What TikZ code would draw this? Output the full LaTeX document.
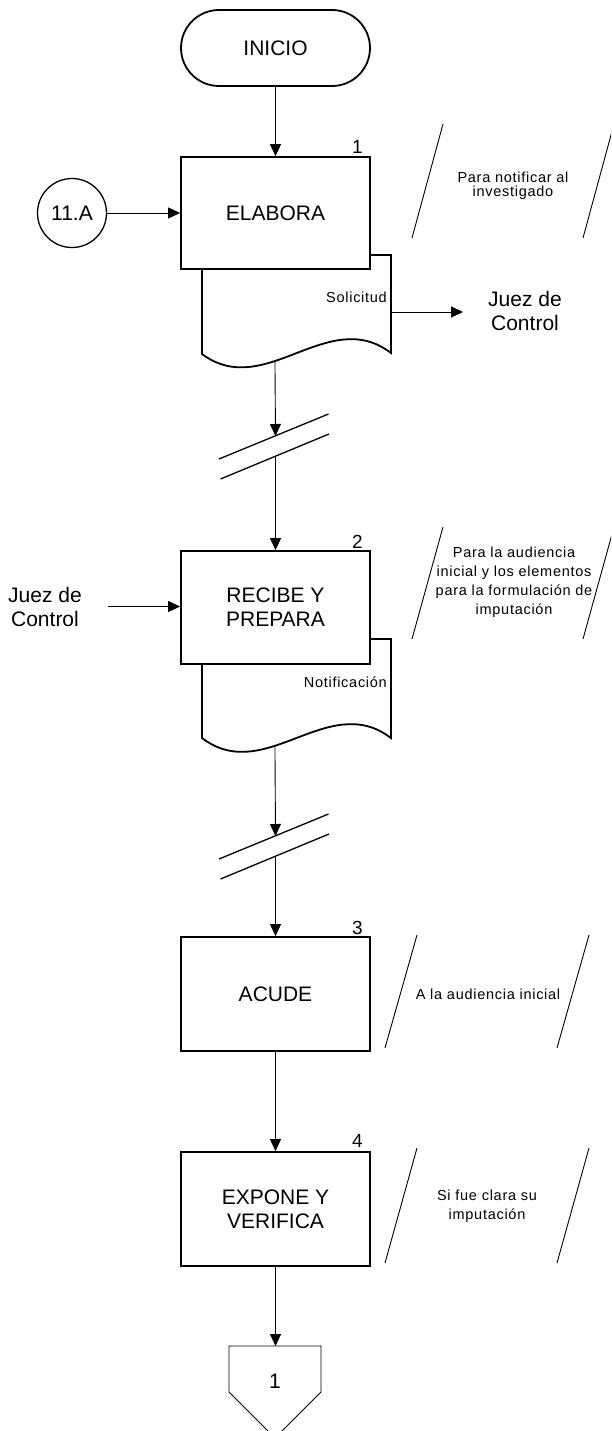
\documentclass[tikz,border=0pt]{standalone}
\usepackage{fontspec}
\setmainfont{Liberation Sans}
\usetikzlibrary{arrows.meta}
\newcommand{\bigf}{\fontsize{21}{24}\selectfont}
\newcommand{\numf}{\fontsize{19}{22}\selectfont}
\newcommand{\annf}{\fontsize{14.5}{19}\selectfont\addfontfeature{LetterSpace=5}}
\newcommand{\annt}{\fontsize{14.5}{13.5}\selectfont\addfontfeature{LetterSpace=5}}
\begin{document}
\begin{tikzpicture}[x=1pt,y=-1pt,
  box/.style={draw, line width=1.8pt, minimum width=189pt, minimum height=113pt, inner sep=0pt, font=\bigf, align=center},
  arr/.style={line width=0.9pt, -{Triangle[length=12pt,width=11pt]}},
  thinl/.style={line width=0.9pt},
  brk/.style={line width=1.3pt},
  docl/.style={line width=1.8pt, line join=miter},
  num/.style={font=\numf, anchor=base east, inner sep=0pt},
  ann/.style={font=\annf, align=center, inner sep=0pt},
  big/.style={font=\bigf, align=center, inner sep=0pt}]
\useasboundingbox (0,0) rectangle (611,1431);
\clip (0,0) rectangle (611,1431);

% start
\node[draw, line width=1.8pt, rounded corners=38pt, minimum width=189pt, minimum height=76pt, font=\bigf] (ini) at (275.5,48) {INICIO};

% box 1
\node[box, minimum height=112pt] (b1) at (275.5,213) {ELABORA};
\node[num] (n1) at (363,154) {1};
\node[draw, circle, line width=1.3pt, minimum size=69pt, inner sep=0pt, font=\bigf] (c11) at (72,213) {11.A};
\draw[arr] (ini.south) -- (b1.north);
\draw[arr] (c11.east) -- (b1.west);

% document 1
\draw[docl] (370,255) -- (391,255) -- (391,353) .. controls (328,305) and (265,401) .. (202,354) coordinate[pos=0.614] (d1w) -- (202,269);
\coordinate (d1r) at (391,312);
\node[font=\annf, anchor=east, inner sep=0pt] (sol) at (387,297) {Solicitud};
\node[big, inner xsep=25pt] (j1) at (525,310.5) {\fontsize{21}{25}\selectfont Juez de\\Control};
\draw[arr] (d1r) -- (d1r -| j1.west);

% annotation 1
\draw[thinl] (443,124) -- (412,238);
\draw[thinl] (614,124) -- (583,238);
\node[font=\annt, align=center, inner sep=0pt] (a1) at (513,186) {Para notificar al\\investigado};

% break 1
\draw[brk] (219,459) -- (328.5,414);
\draw[brk] (220.5,479) -- (329,434);
\coordinate (k1a) at (275.5,436);
\coordinate (k1b) at (275.5,456);
\draw[arr] (d1w) -- (k1a);

% box 2
\node[box] (b2) at (275.5,607.5) {RECIBE Y\\PREPARA};
\node[num] (n2) at (363,548) {2};
\draw[arr] (k1b) -- (b2.north);
\node[big, inner xsep=26pt] (j2) at (45,606.5) {\fontsize{21}{26}\selectfont Juez de\\Control};
\draw[arr] (j2.east) -- (j2.east -| b2.west);

% document 2
\draw[docl] (370,639) -- (391,639) -- (391,738) .. controls (328,690) and (265,786) .. (202,738) coordinate[pos=0.614] (d2w) -- (202,664);
\node[font=\annf, anchor=east, inner sep=0pt] (not) at (387,682) {Notificación};

% annotation 2
\draw[thinl] (443,527) -- (412,639);
\draw[thinl] (614,527) -- (583,639);
\node[ann] (a2) at (514,582.5) {Para la audiencia\\inicial y los elementos\\para la formulación de\\imputación};

% break 2
\draw[brk] (219,859) -- (328.5,814);
\draw[brk] (220.5,879) -- (329,834);
\coordinate (k2a) at (275.5,836);
\coordinate (k2b) at (275.5,856);
\draw[arr] (d2w) -- (k2a);

% box 3
\node[box, minimum height=114pt] (b3) at (275.5,994) {ACUDE};
\node[num] (n3) at (363,934) {3};
\draw[arr] (k2b) -- (b3.north);
\draw[thinl] (417,935) -- (385,1048);
\draw[thinl] (589,935) -- (557,1048);
\node[ann] (a3) at (488,994) {A la audiencia inicial};

% box 4
\node[box, minimum height=114pt] (b4) at (275.5,1209) {\fontsize{21}{25}\selectfont EXPONE Y\\VERIFICA};
\node[num] (n4) at (363,1147) {4};
\draw[arr] (b3.south) -- (b4.north);
\draw[thinl] (417,1148) -- (385,1263);
\draw[thinl] (589,1148) -- (557,1263);
\node[ann] (a4) at (487,1206.5) {Si fue clara su\\imputación};

% off-page connector
\coordinate (off) at (275.5,1346);
\draw[thinl, line join=miter] (229,1346) -- (321,1346) -- (321,1392) -- (275,1438) -- (229,1392) -- cycle;
\node[font=\bigf, inner sep=0pt] (offl) at (275,1381) {1};
\draw[arr] (b4.south) -- (off);
\end{tikzpicture}
\end{document}
